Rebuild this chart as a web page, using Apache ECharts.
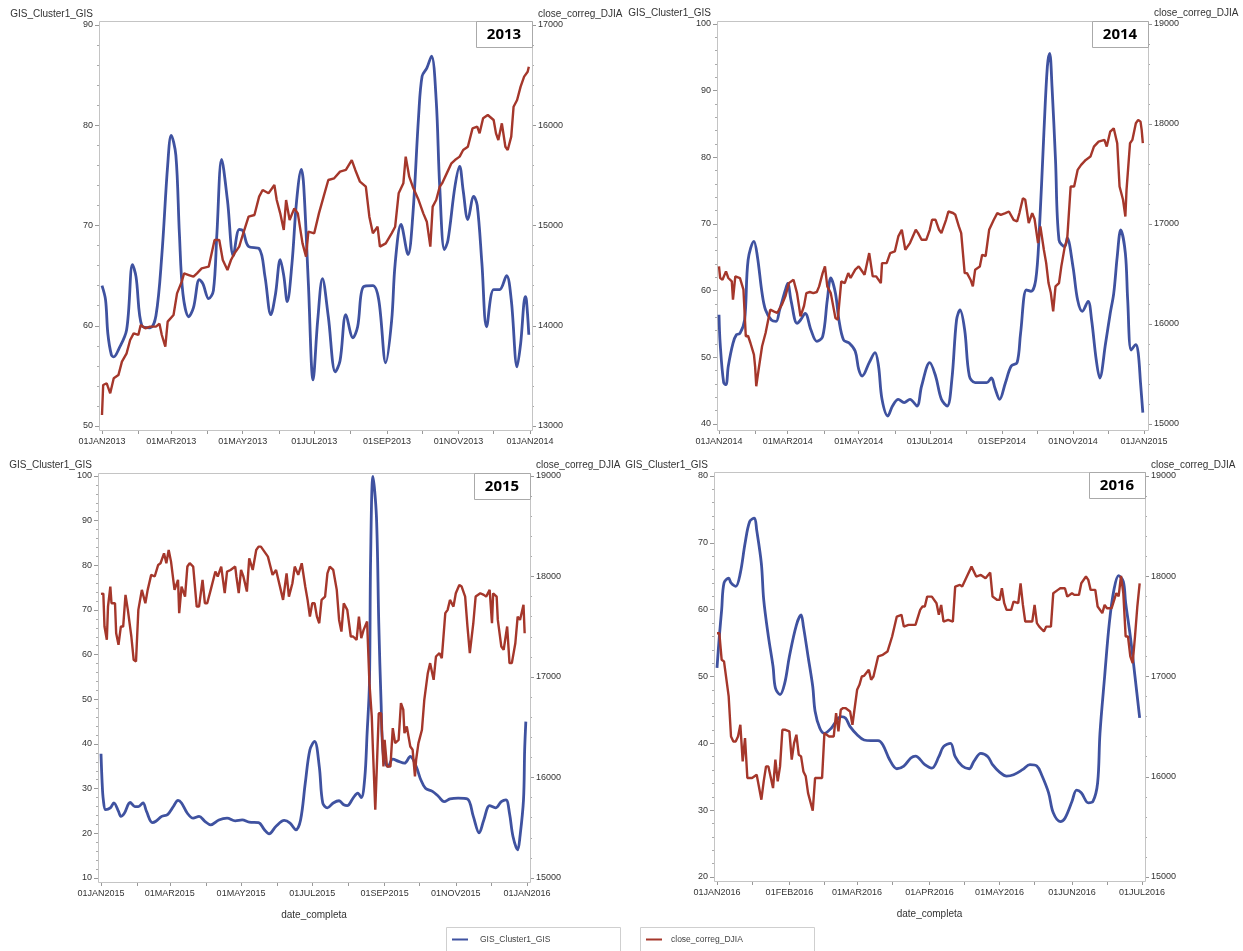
<!DOCTYPE html>
<html><head><meta charset="utf-8">
<script src="https://cdn.jsdelivr.net/npm/echarts@6/dist/echarts.min.js"></script>
<style>html,body{margin:0;padding:0;background:#fff}#c{width:1243px;height:951px}</style>
</head><body><div id="c"></div>
<script>
// ---------------- DATA ----------------
const blue2013 = [['2013-01-01',64.0],['2013-01-04',62.6],['2013-01-06',59.2],['2013-01-09',57.1],['2013-01-11',56.9],['2013-01-15',57.6],['2013-01-22',59.6],['2013-01-27',66.1],['2013-01-30',64.9],['2013-02-04',60.0],['2013-02-11',59.8],['2013-02-16',61.0],['2013-02-21',67.0],['2013-02-26',76.0],['2013-03-01',79.0],['2013-03-05',77.0],['2013-03-08',69.2],['2013-03-11',63.2],['2013-03-16',60.9],['2013-03-20',61.8],['2013-03-25',64.6],['2013-03-28',64.2],['2013-04-02',62.7],['2013-04-06',63.5],['2013-04-09',69.2],['2013-04-13',76.6],['2013-04-18',72.5],['2013-04-23',67.0],['2013-04-28',69.6],['2013-05-01',69.5],['2013-05-06',67.9],['2013-05-15',67.7],['2013-05-20',64.9],['2013-05-25',61.1],['2013-05-29',63.2],['2013-06-02',66.6],['2013-06-05',65.0],['2013-06-08',62.4],['2013-06-12',66.2],['2013-06-16',72.5],['2013-06-20',75.6],['2013-06-22',74.0],['2013-06-26',64.2],['2013-06-30',54.6],['2013-07-04',60.6],['2013-07-08',64.7],['2013-07-13',60.9],['2013-07-19',55.4],['2013-07-23',56.5],['2013-07-28',61.1],['2013-08-03',58.8],['2013-08-07',59.9],['2013-08-12',63.9],['2013-08-20',64.0],['2013-08-25',62.6],['2013-08-31',56.3],['2013-09-05',60.5],['2013-09-08',66.2],['2013-09-13',70.1],['2013-09-19',67.1],['2013-09-23',70.9],['2013-09-28',80.9],['2013-10-01',84.9],['2013-10-05',85.7],['2013-10-09',86.9],['2013-10-13',82.5],['2013-10-16',73.9],['2013-10-20',67.6],['2013-10-23',68.5],['2013-10-29',73.9],['2013-11-02',75.9],['2013-11-05',73.5],['2013-11-09',70.6],['2013-11-14',72.9],['2013-11-17',72.0],['2013-11-21',66.2],['2013-11-25',59.9],['2013-12-01',63.6],['2013-12-06',63.6],['2013-12-12',65.0],['2013-12-16',62.6],['2013-12-21',55.9],['2013-12-24',58.2],['2013-12-28',62.9],['2013-12-29',62.5],['2013-12-31',59.1]];
const red2013 = [['2013-01-01',13110],['2013-01-02',13409],['2013-01-05',13426],['2013-01-06',13392],['2013-01-08',13326],['2013-01-11',13476],['2013-01-15',13508],['2013-01-18',13642],['2013-01-22',13725],['2013-01-25',13858],['2013-01-28',13924],['2013-02-01',13908],['2013-02-03',14008],['2013-02-07',13975],['2013-02-11',13991],['2013-02-16',13991],['2013-02-19',14020],['2013-02-21',13908],['2013-02-24',13791],['2013-02-26',14041],['2013-03-03',14107],['2013-03-06',14323],['2013-03-10',14440],['2013-03-12',14523],['2013-03-16',14506],['2013-03-20',14489],['2013-03-23',14523],['2013-03-27',14573],['2013-04-02',14589],['2013-04-07',14855],['2013-04-11',14855],['2013-04-14',14656],['2013-04-18',14556],['2013-04-21',14656],['2013-04-24',14722],['2013-04-28',14789],['2013-05-01',14905],['2013-05-06',15088],['2013-05-11',15105],['2013-05-15',15288],['2013-05-18',15354],['2013-05-23',15321],['2013-05-28',15404],['2013-05-30',15254],['2013-06-02',15121],['2013-06-05',14955],['2013-06-07',15254],['2013-06-10',15055],['2013-06-14',15171],['2013-06-17',15121],['2013-06-21',14822],['2013-06-24',14689],['2013-06-26',14938],['2013-07-01',14922],['2013-07-05',15121],['2013-07-09',15288],['2013-07-13',15454],['2013-07-18',15471],['2013-07-23',15537],['2013-07-28',15554],['2013-08-02',15653],['2013-08-05',15554],['2013-08-09',15437],['2013-08-14',15387],['2013-08-17',15088],['2013-08-20',14922],['2013-08-24',14988],['2013-08-26',14789],['2013-08-31',14822],['2013-09-05',14922],['2013-09-08',14988],['2013-09-11',15321],['2013-09-15',15421],['2013-09-17',15687],['2013-09-20',15487],['2013-09-23',15387],['2013-09-28',15254],['2013-10-02',15121],['2013-10-05',15038],['2013-10-08',14789],['2013-10-10',15188],['2013-10-13',15254],['2013-10-16',15387],['2013-10-18',15420],['2013-10-22',15520],['2013-10-26',15620],['2013-10-29',15653],['2013-11-02',15687],['2013-11-05',15753],['2013-11-09',15786],['2013-11-13',15969],['2013-11-17',15986],['2013-11-19',15920],['2013-11-22',16069],['2013-11-26',16102],['2013-12-01',16052],['2013-12-03',15919],['2013-12-05',15853],['2013-12-08',16019],['2013-12-11',15786],['2013-12-13',15753],['2013-12-16',15886],['2013-12-18',16185],['2013-12-21',16252],['2013-12-24',16385],['2013-12-27',16485],['2013-12-30',16534],['2013-12-31',16584]];

const blue2014 = [['2014-01-01',56.4],['2014-01-02',52.1],['2014-01-05',46.2],['2014-01-07',45.9],['2014-01-09',48.7],['2014-01-13',52.1],['2014-01-16',53.4],['2014-01-19',53.6],['2014-01-23',55.6],['2014-01-26',64.6],['2014-01-31',67.4],['2014-02-03',65.1],['2014-02-07',59.6],['2014-02-10',57.1],['2014-02-15',55.6],['2014-02-19',55.4],['2014-02-22',57.1],['2014-02-27',60.1],['2014-03-01',61.1],['2014-03-04',58.4],['2014-03-09',55.1],['2014-03-12',55.6],['2014-03-16',56.6],['2014-03-21',54.1],['2014-03-26',52.4],['2014-03-31',53.1],['2014-04-04',58.6],['2014-04-07',61.9],['2014-04-11',59.6],['2014-04-14',55.6],['2014-04-18',52.6],['2014-04-23',52.1],['2014-04-28',50.9],['2014-05-01',48.2],['2014-05-04',47.2],['2014-05-10',49.2],['2014-05-15',50.7],['2014-05-18',48.7],['2014-05-21',43.7],['2014-05-26',41.2],['2014-05-30',42.7],['2014-06-04',43.7],['2014-06-09',43.2],['2014-06-14',43.7],['2014-06-20',42.7],['2014-06-24',45.7],['2014-07-01',49.2],['2014-07-06',47.2],['2014-07-11',43.7],['2014-07-16',42.7],['2014-07-20',46.7],['2014-07-24',55.6],['2014-07-27',57.1],['2014-07-31',54.1],['2014-08-04',47.2],['2014-08-09',46.2],['2014-08-14',46.2],['2014-08-19',46.2],['2014-08-23',46.9],['2014-08-26',45.4],['2014-08-30',43.7],['2014-09-04',46.2],['2014-09-09',48.7],['2014-09-14',49.2],['2014-09-17',53.6],['2014-09-22',60.1],['2014-09-26',59.9],['2014-09-30',61.6],['2014-10-03',68.6],['2014-10-07',83.6],['2014-10-10',93.6],['2014-10-12',95.6],['2014-10-14',90.6],['2014-10-17',79.6],['2014-10-20',67.6],['2014-10-25',66.6],['2014-10-27',67.9],['2014-11-01',63.6],['2014-11-05',58.6],['2014-11-09',56.9],['2014-11-14',58.4],['2014-11-17',55.6],['2014-11-21',49.6],['2014-11-24',46.9],['2014-11-29',52.1],['2014-12-03',56.6],['2014-12-06',59.6],['2014-12-09',65.1],['2014-12-12',69.1],['2014-12-16',65.6],['2014-12-18',58.6],['2014-12-21',51.1],['2014-12-25',51.9],['2014-12-27',50.7],['2014-12-29',46.2],['2014-12-31',41.7]];
const red2014 = [['2014-01-01',16576],['2014-01-02',16459],['2014-01-04',16443],['2014-01-07',16526],['2014-01-09',16460],['2014-01-12',16426],['2014-01-13',16243],['2014-01-15',16476],['2014-01-19',16459],['2014-01-22',16343],['2014-01-24',15877],['2014-01-26',15880],['2014-01-28',15810],['2014-01-31',15693],['2014-02-01',15577],['2014-02-02',15377],['2014-02-04',15543],['2014-02-07',15777],['2014-02-10',15910],['2014-02-14',16143],['2014-02-17',16126],['2014-02-20',16110],['2014-02-24',16193],['2014-02-27',16276],['2014-03-02',16409],['2014-03-06',16443],['2014-03-09',16309],['2014-03-12',16076],['2014-03-15',16180],['2014-03-17',16309],['2014-03-20',16320],['2014-03-23',16309],['2014-03-26',16320],['2014-03-28',16376],['2014-03-31',16509],['2014-04-02',16576],['2014-04-04',16376],['2014-04-07',16309],['2014-04-11',16059],['2014-04-13',16043],['2014-04-16',16426],['2014-04-19',16409],['2014-04-22',16509],['2014-04-24',16460],['2014-04-28',16543],['2014-05-01',16576],['2014-05-03',16543],['2014-05-06',16493],['2014-05-10',16709],['2014-05-13',16476],['2014-05-16',16476],['2014-05-20',16409],['2014-05-21',16609],['2014-05-25',16609],['2014-05-28',16709],['2014-06-01',16726],['2014-06-04',16876],['2014-06-07',16942],['2014-06-10',16742],['2014-06-14',16809],['2014-06-19',16942],['2014-06-21',16909],['2014-06-24',16842],['2014-06-28',16842],['2014-07-01',16942],['2014-07-03',17042],['2014-07-06',17042],['2014-07-09',16942],['2014-07-11',16909],['2014-07-15',17042],['2014-07-17',17125],['2014-07-21',17110],['2014-07-23',17092],['2014-07-26',16976],['2014-07-28',16909],['2014-07-31',16509],['2014-08-02',16509],['2014-08-05',16443],['2014-08-07',16376],['2014-08-09',16543],['2014-08-13',16576],['2014-08-15',16692],['2014-08-18',16680],['2014-08-21',16942],['2014-08-25',17042],['2014-08-28',17109],['2014-08-31',17092],['2014-09-04',17109],['2014-09-07',17125],['2014-09-11',17042],['2014-09-14',17025],['2014-09-16',17109],['2014-09-19',17258],['2014-09-21',17242],['2014-09-24',17009],['2014-09-27',17109],['2014-09-29',17050],['2014-10-02',16809],['2014-10-04',16976],['2014-10-07',16742],['2014-10-09',16609],['2014-10-11',16409],['2014-10-13',16309],['2014-10-15',16126],['2014-10-17',16376],['2014-10-20',16409],['2014-10-22',16576],['2014-10-25',16776],['2014-10-27',16842],['2014-10-30',17375],['2014-11-02',17375],['2014-11-05',17541],['2014-11-08',17591],['2014-11-12',17641],['2014-11-16',17674],['2014-11-19',17774],['2014-11-23',17824],['2014-11-28',17841],['2014-11-30',17774],['2014-12-03',17924],['2014-12-06',17957],['2014-12-09',17808],['2014-12-11',17375],['2014-12-14',17242],['2014-12-16',17075],['2014-12-17',17342],['2014-12-20',17808],['2014-12-22',17841],['2014-12-25',18008],['2014-12-27',18041],['2014-12-29',18024],['2014-12-30',17941],['2014-12-31',17808]];

const blue2015 = [['2015-01-01',37.8],['2015-01-02',31.2],['2015-01-03',27.5],['2015-01-05',25.3],['2015-01-09',25.7],['2015-01-12',26.8],['2015-01-16',24.9],['2015-01-18',23.8],['2015-01-21',24.5],['2015-01-26',26.9],['2015-01-30',26.0],['2015-02-02',26.0],['2015-02-06',26.8],['2015-02-09',24.9],['2015-02-14',22.4],['2015-02-17',22.7],['2015-02-22',23.8],['2015-02-27',24.2],['2015-03-04',26.0],['2015-03-08',27.4],['2015-03-11',26.8],['2015-03-16',24.5],['2015-03-21',23.4],['2015-03-26',23.8],['2015-03-31',22.7],['2015-04-05',21.9],['2015-04-12',23.0],['2015-04-19',23.4],['2015-04-26',22.8],['2015-05-02',23.0],['2015-05-08',22.5],['2015-05-16',22.4],['2015-05-21',20.8],['2015-05-25',19.9],['2015-05-31',21.6],['2015-06-07',22.9],['2015-06-12',22.3],['2015-06-17',20.8],['2015-06-21',23.0],['2015-06-25',31.2],['2015-06-29',38.7],['2015-07-03',40.6],['2015-07-07',35.0],['2015-07-10',26.8],['2015-07-14',25.7],['2015-07-19',26.8],['2015-07-24',27.3],['2015-07-28',26.4],['2015-07-31',26.2],['2015-08-05',27.9],['2015-08-09',29.0],['2015-08-12',28.0],['2015-08-15',32.4],['2015-08-17',42.4],['2015-08-19',53.6],['2015-08-20',81.2],['2015-08-22',99.9],['2015-08-25',90.9],['2015-08-27',67.0],['2015-08-29',49.1],['2015-08-31',37.2],['2015-09-04',35.0],['2015-09-08',36.6],['2015-09-13',36.1],['2015-09-18',35.7],['2015-09-23',37.2],['2015-09-28',35.0],['2015-10-02',32.0],['2015-10-06',30.1],['2015-10-12',29.4],['2015-10-17',28.3],['2015-10-22',27.1],['2015-10-27',27.7],['2015-11-03',27.9],['2015-11-11',27.7],['2015-11-16',23.8],['2015-11-21',20.1],['2015-11-25',23.0],['2015-11-30',26.2],['2015-12-05',25.7],['2015-12-10',27.1],['2015-12-14',27.5],['2015-12-17',24.5],['2015-12-20',19.3],['2015-12-24',16.3],['2015-12-26',19.3],['2015-12-29',27.5],['2015-12-30',38.7],['2015-12-31',45.0]];
const red2015 = [['2015-01-01',17827],['2015-01-03',17830],['2015-01-04',17502],['2015-01-06',17370],['2015-01-07',17701],['2015-01-09',17900],['2015-01-10',17734],['2015-01-13',17734],['2015-01-14',17436],['2015-01-16',17320],['2015-01-18',17502],['2015-01-20',17502],['2015-01-22',17817],['2015-01-24',17668],['2015-01-27',17403],['2015-01-29',17171],['2015-01-31',17154],['2015-02-02',17668],['2015-02-05',17867],['2015-02-08',17734],['2015-02-10',17867],['2015-02-13',18016],['2015-02-16',18000],['2015-02-19',18115],['2015-02-21',18132],['2015-02-24',18231],['2015-02-26',18132],['2015-02-28',18264],['2015-03-02',18148],['2015-03-05',17867],['2015-03-08',17966],['2015-03-09',17635],['2015-03-11',17900],['2015-03-14',17800],['2015-03-16',18099],['2015-03-18',18132],['2015-03-21',18099],['2015-03-24',17701],['2015-03-26',17701],['2015-03-29',17966],['2015-03-31',17734],['2015-04-02',17734],['2015-04-05',17867],['2015-04-09',18049],['2015-04-11',17999],['2015-04-14',18099],['2015-04-17',17834],['2015-04-19',18049],['2015-04-22',18065],['2015-04-26',18099],['2015-04-27',18000],['2015-04-29',17834],['2015-05-01',18065],['2015-05-03',18000],['2015-05-06',17850],['2015-05-08',18181],['2015-05-11',18065],['2015-05-14',18264],['2015-05-16',18297],['2015-05-18',18297],['2015-05-21',18248],['2015-05-24',18198],['2015-05-28',18016],['2015-05-31',18065],['2015-06-04',17867],['2015-06-06',17767],['2015-06-09',18032],['2015-06-11',17800],['2015-06-14',17933],['2015-06-16',18099],['2015-06-19',18016],['2015-06-22',18132],['2015-06-25',17900],['2015-06-27',17767],['2015-06-29',17601],['2015-07-01',17734],['2015-07-03',17734],['2015-07-05',17601],['2015-07-07',17535],['2015-07-09',17767],['2015-07-12',17800],['2015-07-14',18032],['2015-07-16',18099],['2015-07-19',18065],['2015-07-22',17867],['2015-07-24',17568],['2015-07-26',17452],['2015-07-28',17734],['2015-07-31',17668],['2015-08-03',17403],['2015-08-05',17403],['2015-08-08',17370],['2015-08-10',17601],['2015-08-12',17387],['2015-08-14',17469],['2015-08-17',17552],['2015-08-19',16939],['2015-08-21',16607],['2015-08-22',16276],['2015-08-24',15679],['2015-08-25',15663],['2015-08-27',16640],['2015-08-29',16640],['2015-08-31',16110],['2015-09-01',16375],['2015-09-03',16110],['2015-09-06',16110],['2015-09-08',16491],['2015-09-10',16342],['2015-09-13',16375],['2015-09-15',16740],['2015-09-17',16674],['2015-09-18',16442],['2015-09-20',16508],['2015-09-23',16309],['2015-09-25',16276],['2015-09-27',16011],['2015-09-28',16177],['2015-09-30',16342],['2015-10-03',16475],['2015-10-05',16773],['2015-10-08',17038],['2015-10-10',17138],['2015-10-13',16972],['2015-10-15',17204],['2015-10-18',17237],['2015-10-20',17187],['2015-10-23',17635],['2015-10-25',17668],['2015-10-27',17767],['2015-10-30',17700],['2015-11-01',17833],['2015-11-04',17916],['2015-11-06',17900],['2015-11-09',17800],['2015-11-11',17502],['2015-11-13',17237],['2015-11-16',17535],['2015-11-18',17800],['2015-11-22',17833],['2015-11-25',17817],['2015-11-27',17800],['2015-11-30',17867],['2015-12-02',17535],['2015-12-03',17833],['2015-12-06',17800],['2015-12-07',17568],['2015-12-10',17303],['2015-12-12',17270],['2015-12-15',17502],['2015-12-17',17138],['2015-12-19',17138],['2015-12-22',17336],['2015-12-24',17601],['2015-12-26',17568],['2015-12-29',17718],['2015-12-30',17436]];

const blue2016 = [['2016-01-01',51.3],['2016-01-02',56.0],['2016-01-03',60.0],['2016-01-04',64.0],['2016-01-06',64.7],['2016-01-07',64.0],['2016-01-09',63.5],['2016-01-11',65.5],['2016-01-13',69.9],['2016-01-15',73.2],['2016-01-17',73.7],['2016-01-18',71.9],['2016-01-20',66.9],['2016-01-21',61.5],['2016-01-23',56.0],['2016-01-25',51.5],['2016-01-26',48.3],['2016-01-28',47.3],['2016-01-30',49.0],['2016-02-01',53.0],['2016-02-04',57.7],['2016-02-06',59.2],['2016-02-07',57.5],['2016-02-09',53.0],['2016-02-11',48.5],['2016-02-12',44.8],['2016-02-14',42.3],['2016-02-16',41.5],['2016-02-19',42.3],['2016-02-21',43.3],['2016-02-23',44.0],['2016-02-25',43.8],['2016-02-27',42.5],['2016-03-01',41.3],['2016-03-04',40.5],['2016-03-07',40.4],['2016-03-10',40.4],['2016-03-12',39.8],['2016-03-15',37.5],['2016-03-18',36.2],['2016-03-21',36.6],['2016-03-24',37.8],['2016-03-26',38.1],['2016-03-30',36.8],['2016-04-02',36.3],['2016-04-05',38.0],['2016-04-07',39.5],['2016-04-10',40.0],['2016-04-12',38.0],['2016-04-15',36.6],['2016-04-18',36.2],['2016-04-20',37.3],['2016-04-23',38.5],['2016-04-26',38.0],['2016-04-28',36.8],['2016-05-01',35.7],['2016-05-04',35.1],['2016-05-07',35.3],['2016-05-11',36.1],['2016-05-14',36.8],['2016-05-17',36.6],['2016-05-19',35.3],['2016-05-22',32.6],['2016-05-24',29.6],['2016-05-27',28.3],['2016-05-29',28.8],['2016-06-01',31.3],['2016-06-03',33.0],['2016-06-05',32.6],['2016-06-08',31.1],['2016-06-10',31.3],['2016-06-12',34.1],['2016-06-13',41.5],['2016-06-15',50.0],['2016-06-17',58.0],['2016-06-19',63.0],['2016-06-21',65.1],['2016-06-23',64.2],['2016-06-24',61.0],['2016-06-26',56.0],['2016-06-28',50.0],['2016-06-30',43.8]];
const red2016 = [['2016-01-01',17432],['2016-01-02',17432],['2016-01-03',17166],['2016-01-04',17150],['2016-01-06',16801],['2016-01-07',16402],['2016-01-08',16352],['2016-01-09',16352],['2016-01-10',16402],['2016-01-11',16519],['2016-01-12',16153],['2016-01-13',16386],['2016-01-14',15987],['2016-01-16',15987],['2016-01-18',16020],['2016-01-20',15771],['2016-01-21',15954],['2016-01-22',16103],['2016-01-23',16103],['2016-01-25',15887],['2016-01-26',16170],['2016-01-27',15954],['2016-01-28',16103],['2016-01-29',16469],['2016-01-30',16469],['2016-02-01',16452],['2016-02-02',16170],['2016-02-03',16336],['2016-02-04',16419],['2016-02-05',16220],['2016-02-06',16203],['2016-02-07',16053],['2016-02-08',16004],['2016-02-09',15837],['2016-02-11',15661],['2016-02-12',15987],['2016-02-14',15987],['2016-02-15',15987],['2016-02-16',16435],['2016-02-18',16402],['2016-02-19',16402],['2016-02-20',16402],['2016-02-21',16635],['2016-02-22',16452],['2016-02-23',16668],['2016-02-24',16685],['2016-02-25',16685],['2016-02-27',16651],['2016-02-28',16519],['2016-03-01',16867],['2016-03-02',16917],['2016-03-03',17000],['2016-03-04',17007],['2016-03-06',17067],['2016-03-07',16967],['2016-03-08',17000],['2016-03-10',17200],['2016-03-12',17216],['2016-03-14',17249],['2016-03-16',17399],['2016-03-18',17598],['2016-03-20',17615],['2016-03-21',17498],['2016-03-23',17515],['2016-03-26',17515],['2016-03-28',17665],['2016-03-29',17698],['2016-03-30',17698],['2016-03-31',17797],['2016-04-02',17797],['2016-04-04',17731],['2016-04-05',17615],['2016-04-06',17714],['2016-04-07',17548],['2016-04-09',17565],['2016-04-11',17548],['2016-04-12',17897],['2016-04-14',17914],['2016-04-15',17897],['2016-04-17',17997],['2016-04-19',18096],['2016-04-21',17997],['2016-04-23',18013],['2016-04-25',17980],['2016-04-27',18037],['2016-04-28',17797],['2016-04-30',17764],['2016-05-01',17764],['2016-05-02',17880],['2016-05-03',17731],['2016-05-04',17665],['2016-05-06',17665],['2016-05-07',17748],['2016-05-09',17731],['2016-05-10',17930],['2016-05-11',17714],['2016-05-12',17548],['2016-05-15',17548],['2016-05-16',17714],['2016-05-17',17532],['2016-05-18',17498],['2016-05-20',17449],['2016-05-21',17498],['2016-05-23',17498],['2016-05-24',17831],['2016-05-26',17864],['2016-05-27',17880],['2016-05-29',17880],['2016-05-30',17797],['2016-06-01',17831],['2016-06-02',17814],['2016-06-04',17814],['2016-06-05',17930],['2016-06-07',17997],['2016-06-08',17964],['2016-06-09',17864],['2016-06-11',17864],['2016-06-12',17698],['2016-06-14',17632],['2016-06-15',17714],['2016-06-16',17681],['2016-06-18',17681],['2016-06-20',17831],['2016-06-21',17800],['2016-06-22',18003],['2016-06-23',17831],['2016-06-24',17399],['2016-06-25',17399],['2016-06-26',17200],['2016-06-27',17133],['2016-06-28',17399],['2016-06-29',17698],['2016-06-30',17930]];

// tick positions / labels
const ticks2013 = ['2013-01-01','2013-02-01','2013-03-01','2013-04-01','2013-05-01','2013-06-01','2013-07-01','2013-08-01','2013-09-01','2013-10-01','2013-11-01','2013-12-01','2014-01-01'];
const labels2013 = ['2013-01-01','2013-03-01','2013-05-01','2013-07-01','2013-09-01','2013-11-01','2014-01-01'];
const ticks2014 = ['2014-01-01','2014-02-01','2014-03-01','2014-04-01','2014-05-01','2014-06-01','2014-07-01','2014-08-01','2014-09-01','2014-10-01','2014-11-01','2014-12-01','2015-01-01'];
const labels2014 = ['2014-01-01','2014-03-01','2014-05-01','2014-07-01','2014-09-01','2014-11-01','2015-01-01'];
const ticks2015 = ['2015-01-01','2015-02-01','2015-03-01','2015-04-01','2015-05-01','2015-06-01','2015-07-01','2015-08-01','2015-09-01','2015-10-01','2015-11-01','2015-12-01','2016-01-01'];
const labels2015 = ['2015-01-01','2015-03-01','2015-05-01','2015-07-01','2015-09-01','2015-11-01','2016-01-01'];
const ticks2016 = ['2016-01-01','2016-01-16','2016-02-01','2016-02-16','2016-03-01','2016-03-16','2016-04-01','2016-04-16','2016-05-01','2016-05-16','2016-06-01','2016-06-16','2016-07-01'];
const labels2016 = ['2016-01-01','2016-02-01','2016-03-01','2016-04-01','2016-05-01','2016-06-01','2016-07-01'];
const MONTHS = ['JAN','FEB','MAR','APR','MAY','JUN','JUL','AUG','SEP','OCT','NOV','DEC'];
const years = ['2013','2014','2015','2016'];
const leftRanges = [[50,90],[40,100],[10,100],[20,80]];
const rightRanges = [[13000,17000],[15000,19000],[15000,19000],[15000,19000]];
const xRanges = [['2013-01-01','2014-01-01'],['2014-01-01','2015-01-01'],['2015-01-01','2016-01-01'],['2016-01-01','2016-07-01']];
const NAME_L = 'GIS_Cluster1_GIS', NAME_R = 'close_correg_DJIA', NAME_X = 'date_completa';

// ---------------- LAYOUT ----------------
const BLUE = '#3f52a0', RED = '#a5372b';
const FONT = "'Liberation Sans', Arial, sans-serif";
const panels = [
  {grid:{left:102,top:25,width:428,height:401}, frame:[99,21,433,409], offL:3, offR:2, offB:4, xname:false},
  {grid:{left:719,top:24,width:425,height:400}, frame:[717,21,431,409], offL:2, offR:4, offB:6, xname:false},
  {grid:{left:101,top:476,width:426,height:402}, frame:[98,473,432,409], offL:3, offR:3, offB:4, xname:true},
  {grid:{left:717,top:476,width:425,height:401}, frame:[714,472,431,409], offL:3, offR:3, offB:4, xname:true}
];
const blues = [blue2013, blue2014, blue2015, blue2016];
const reds = [red2013, red2014, red2015, red2016];
const tickSets = [ticks2013, ticks2014, ticks2015, ticks2016];
const labelSets = [labels2013, labels2014, labels2015, labels2016];

function ts(s){ const p = s.split('-').map(Number); return Date.UTC(p[0], p[1]-1, p[2]); }
function fmtDate(v){ const d = new Date(v); return String(d.getUTCDate()).padStart(2,'0') + MONTHS[d.getUTCMonth()] + d.getUTCFullYear(); }
const toXY = arr => arr.map(r => [ts(r[0]), r[1]]);
const plain = v => String(v);

const grids = [], xAxes = [], yAxes = [], series = [], graphics = [];
const axisLineStyle = {color:'#b4b4b4', width:1};
panels.forEach((p, i) => {
  grids.push(Object.assign({containLabel:false}, p.grid));
  xAxes.push({
    type:'value', gridIndex:i, min:ts(xRanges[i][0]), max:ts(xRanges[i][1]), offset:p.offB,
    axisLine:{show:true, lineStyle:axisLineStyle},
    axisTick:{show:true, length:4, customValues:tickSets[i].map(ts), lineStyle:{color:'#999'}},
    axisLabel:{customValues:labelSets[i].map(ts), formatter:fmtDate, fontSize:9, color:'#333', fontFamily:FONT, margin:7, showMinLabel:true, showMaxLabel:true},
    splitLine:{show:false},
    name: p.xname ? NAME_X : '', nameLocation:'middle', nameGap:28,
    nameTextStyle:{fontSize:10, color:'#333', fontFamily:FONT}
  });
  yAxes.push({
    type:'value', gridIndex:i, position:'left', min:leftRanges[i][0], max:leftRanges[i][1], interval:10, offset:p.offL,
    axisLine:{show:true, lineStyle:axisLineStyle},
    axisTick:{show:true, length:4, lineStyle:{color:'#999'}},
    minorTick:{show:true, splitNumber:5, length:2, lineStyle:{color:'#aaa'}},
    axisLabel:{fontSize:9, color:'#333', fontFamily:FONT, margin:6, formatter:plain},
    splitLine:{show:false},
    name:NAME_L, nameLocation:'end', nameGap:6,
    nameTextStyle:{fontSize:10, color:'#333', fontFamily:FONT, align:'right', verticalAlign:'bottom', padding:[0,6,0,0]}
  });
  yAxes.push({
    type:'value', gridIndex:i, position:'right', min:rightRanges[i][0], max:rightRanges[i][1], interval:1000, offset:p.offR,
    axisLine:{show:true, lineStyle:axisLineStyle},
    axisTick:{show:true, length:4, lineStyle:{color:'#999'}},
    minorTick:{show:true, splitNumber:5, length:2, lineStyle:{color:'#aaa'}},
    axisLabel:{fontSize:9, color:'#333', fontFamily:FONT, margin:6, formatter:plain},
    splitLine:{show:false},
    name:NAME_R, nameLocation:'end', nameGap:6,
    nameTextStyle:{fontSize:10, color:'#333', fontFamily:FONT, align:'left', verticalAlign:'bottom', padding:[0,0,0,6]}
  });
  series.push({
    type:'line', name:NAME_L, xAxisIndex:i, yAxisIndex:2*i, data:toXY(blues[i]),
    showSymbol:false, smooth:0.35, lineStyle:{color:BLUE, width:2.8}, itemStyle:{color:BLUE}, z:2
  });
  series.push({
    type:'line', name:NAME_R, xAxisIndex:i, yAxisIndex:2*i+1, data:toXY(reds[i]),
    showSymbol:false, lineStyle:{color:RED, width:2.4}, itemStyle:{color:RED}, z:3
  });
  const [fx, fy, fw, fh] = p.frame;
  graphics.push({type:'rect', shape:{x:fx+0.5, y:fy+0.5, width:fw, height:fh}, style:{fill:null, stroke:'#c4c4c4', lineWidth:1}, z:1, silent:true});
  graphics.push({type:'rect', shape:{x:fx+fw-56+0.5, y:fy+0.5, width:56, height:26}, style:{fill:'#fff', stroke:'#aaa', lineWidth:1}, z:100, silent:true});
  graphics.push({type:'text', x:fx+fw-28, y:fy+14, style:{text:years[i], font:"bold 15px 'Open Sans', sans-serif", fill:'#000', align:'center', verticalAlign:'middle'}, z:101, silent:true});
});
// legend boxes
graphics.push({type:'rect', shape:{x:446.5, y:927.5, width:174, height:40}, style:{fill:null, stroke:'#cfcfcf', lineWidth:1}, z:1, silent:true});
graphics.push({type:'rect', shape:{x:640.5, y:927.5, width:174, height:40}, style:{fill:null, stroke:'#cfcfcf', lineWidth:1}, z:1, silent:true});

const chart = echarts.init(document.getElementById('c'), null, {renderer:'canvas'});
chart.setOption({
  animation:false,
  backgroundColor:'#fff',
  grid:grids, xAxis:xAxes, yAxis:yAxes, series:series,
  legend:[
    {data:[NAME_L], left:452, top:935, padding:0, icon:'rect', itemWidth:16, itemHeight:2, selectedMode:false,
     textStyle:{fontSize:8.5, color:'#444', fontFamily:FONT, padding:[0,0,0,7]}},
    {data:[NAME_R], left:646, top:935, padding:0, icon:'rect', itemWidth:16, itemHeight:2, selectedMode:false,
     textStyle:{fontSize:8.5, color:'#444', fontFamily:FONT, padding:[0,0,0,4]}}
  ],
  graphic:{elements:graphics}
});
</script></body></html>
